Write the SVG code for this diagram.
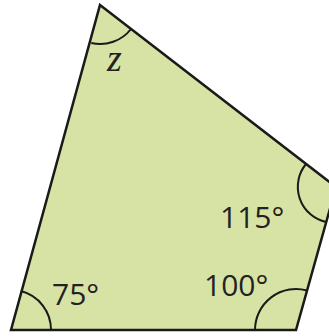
<svg xmlns="http://www.w3.org/2000/svg" width="329" height="336" viewBox="0 0 329 336">
<style>
.shape{fill:#d7e3a5;stroke:#1a1a1a;stroke-width:2.5;stroke-linejoin:miter}
.arc{fill:none;stroke:#1a1a1a;stroke-width:2}
.lbl{font-family:"Open Sans","Noto Sans",sans-serif;font-size:30px;fill:#222}
.var{font-family:"Liberation Serif","DejaVu Serif",serif;font-style:italic;font-size:38px;fill:#222}
</style>
<rect width="329" height="336" fill="#ffffff"/>
<g id="quadrilateral">
<polygon class="shape" points="100,5 336,187 296,330 11,330"/>
</g>
<g id="angle-arcs">
<path class="arc" d="M 91.3,43 A 39 39 0 0 0 131,29"/>
<path class="arc" d="M 306,164 A 36 36 0 0 0 326,222"/>
<path class="arc" d="M 255,330 A 41 41 0 0 1 307,290.5"/>
<path class="arc" d="M 20.8,291 A 40 40 0 0 1 51,330"/>
</g>
<g id="labels">
<text class="var" x="107" y="71">z</text>
<text class="lbl" x="220" y="228">115°</text>
<text class="lbl" x="204" y="296">100°</text>
<text class="lbl" x="52" y="305">75°</text>
</g>
</svg>
